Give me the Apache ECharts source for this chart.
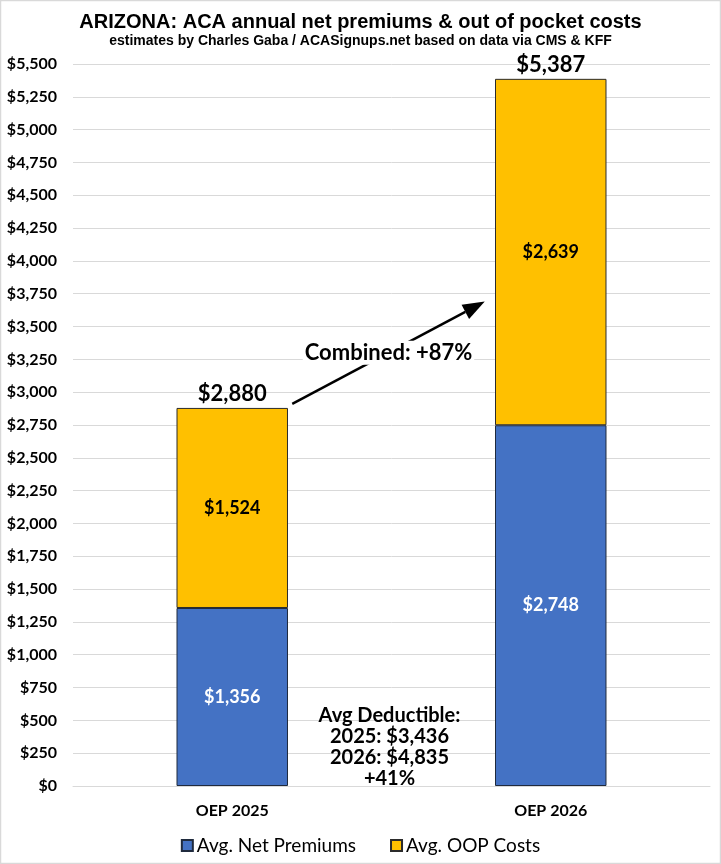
<!DOCTYPE html>
<html><head><meta charset="utf-8">
<script src="https://cdn.jsdelivr.net/npm/echarts@6/dist/echarts.min.js"></script>
<style>html,body{margin:0;padding:0;background:#fff}#c{width:721px;height:864px}</style>
</head><body><div id="c"></div>
<script>
const categories = ['OEP 2025', 'OEP 2026'];
const netPremiums = [1356, 2748];
const oopCosts = [1524, 2639];
const deductibleYears = ['2025', '2026'];
const deductibles = [3436, 4835];
const yTicks = { min: 0, max: 5500, interval: 250 };

const totals = categories.map((c, i) => netPremiums[i] + oopCosts[i]);
const zeros = categories.map(() => 0);
const fmt = v => '$' + Math.round(v).toLocaleString('en-US');
const pct = (a, b) => '+' + Math.round((b / a - 1) * 100) + '%';

const FONT = 'Lato';
const chart = echarts.init(document.getElementById('c'));
const option = {
  backgroundColor: '#fff',
  animation: false,
  title: {
    text: 'ARIZONA: ACA annual net premiums & out of pocket costs',
    subtext: 'estimates by Charles Gaba / ACASignups.net based on data via CMS & KFF',
    left: 'center', top: 7, itemGap: 2,
    textStyle: { fontFamily: 'Liberation Sans', fontWeight: 'bold', fontSize: 20, color: '#000' },
    subtextStyle: { fontFamily: 'Liberation Sans', fontWeight: 'bold', fontSize: 14, color: '#000' }
  },
  grid: { left: 73, right: 11, top: 64, bottom: 78, containLabel: false },
  legend: {
    data: ['Avg. Net Premiums', 'Avg. OOP Costs'],
    top: 831, left: 'center', itemWidth: 11, itemHeight: 11, itemGap: 34,
    icon: 'rect',
    textStyle: { fontFamily: FONT, fontSize: 19, color: '#000', padding: [0, 0, 0, -1] }
  },
  xAxis: {
    type: 'category', data: categories,
    axisLine: { show: true, lineStyle: { color: '#d9d9d9', width: 1 } },
    axisTick: { show: false },
    axisLabel: { margin: 17, fontFamily: FONT, fontWeight: 'bold', fontSize: 16, color: '#000' }
  },
  yAxis: {
    type: 'value', min: yTicks.min, max: yTicks.max, interval: yTicks.interval,
    axisLine: { show: false }, axisTick: { show: false },
    splitLine: { lineStyle: { color: '#d9d9d9', width: 1 } },
    axisLabel: { margin: 16, fontFamily: FONT, fontWeight: 'bold', fontSize: 16, color: '#000', formatter: v => fmt(v) }
  },
  series: [
    {
      name: 'Avg. Net Premiums', type: 'bar', stack: 'total', barWidth: '35%',
      data: netPremiums,
      itemStyle: { color: '#4472C4', borderColor: '#1f2a3d', borderWidth: 1 },
      label: { show: true, position: 'inside', fontFamily: FONT, fontWeight: 'bold', fontSize: 18, color: '#fff', formatter: p => fmt(p.value) }
    },
    {
      name: 'Avg. OOP Costs', type: 'bar', stack: 'total', barWidth: '35%',
      data: oopCosts,
      itemStyle: { color: '#FFC000', borderColor: '#2b2b2b', borderWidth: 1 },
      label: { show: true, position: 'inside', fontFamily: FONT, fontWeight: 'bold', fontSize: 18, color: '#000', formatter: p => fmt(p.value) }
    },
    {
      name: 'Total', type: 'bar', stack: 'total', barWidth: '35%',
      data: zeros,
      itemStyle: { color: 'rgba(0,0,0,0)', borderWidth: 0 },
      label: { show: true, position: 'top', distance: 3, fontFamily: FONT, fontWeight: 'bold', fontSize: 22, color: '#000', formatter: p => fmt(totals[p.dataIndex]) }
    }
  ]
};
chart.setOption(option);

// Annotations positioned from data coordinates
const p0 = chart.convertToPixel({ gridIndex: 0 }, [categories[0], totals[0]]);
const p1 = chart.convertToPixel({ gridIndex: 0 }, [categories[1], 3690]);
const start = [p0[0] + 60, p0[1] - 4];
const end = [p1[0] - 66, p1[1]];
const ang = Math.atan2(end[1] - start[1], end[0] - start[0]);
const headLen = 22, headHalf = 8;
const base = [end[0] - headLen * Math.cos(ang), end[1] - headLen * Math.sin(ang)];
const nx = -Math.sin(ang), ny = Math.cos(ang);
const mid = [(start[0] + end[0]) / 2, (start[1] + end[1]) / 2];
const midX = (chart.convertToPixel({ gridIndex: 0 }, [categories[0], 0])[0] + chart.convertToPixel({ gridIndex: 0 }, [categories[1], 0])[0]) / 2;
const dedY = chart.convertToPixel({ gridIndex: 0 }, [categories[0], 620])[1];
const dedText = ['Avg Deductible:']
  .concat(deductibleYears.map((y, i) => y + ': ' + fmt(deductibles[i])))
  .concat([pct(deductibles[0], deductibles[1])]).join('\n');

chart.setOption({
  graphic: [
    { type: 'rect', shape: { x: 0.5, y: 0.5, width: 720, height: 863 }, style: { fill: 'none', stroke: '#d9d9d9', lineWidth: 1.5 }, silent: true },
    { type: 'line', shape: { x1: start[0], y1: start[1], x2: base[0], y2: base[1] }, style: { stroke: '#000', lineWidth: 2.5 }, z: 10 },
    { type: 'polygon', shape: { points: [end, [base[0] + nx * headHalf, base[1] + ny * headHalf], [base[0] - nx * headHalf, base[1] - ny * headHalf]] }, style: { fill: '#000' }, z: 10 },
    { type: 'text', x: mid[0], y: mid[1], z: 11,
      style: { text: 'Combined: ' + pct(totals[0], totals[1]), align: 'center', verticalAlign: 'middle', font: 'bold 22px Lato', fill: '#000', backgroundColor: '#fff', padding: [1, 2] } },
    { type: 'text', x: midX - 2, y: dedY, z: 11,
      style: { text: dedText, align: 'center', verticalAlign: 'top', font: 'bold 20px Lato', lineHeight: 21, fill: '#000' } }
  ]
});
</script>
</body></html>
